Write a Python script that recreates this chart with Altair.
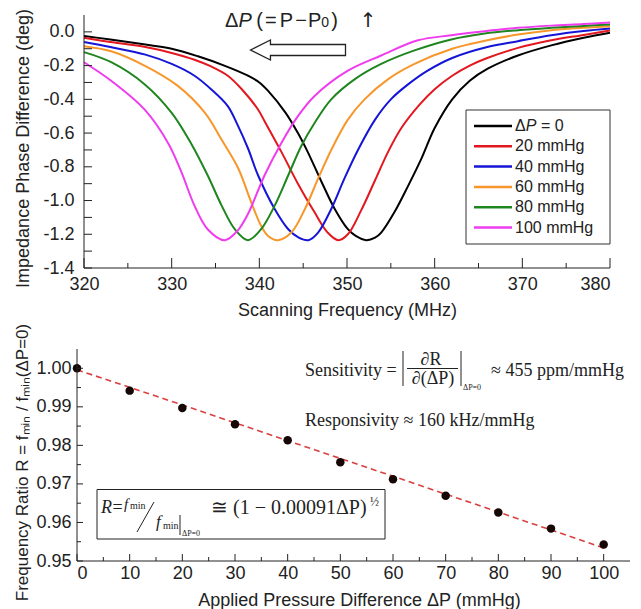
import altair as alt
import pandas as pd

# ---------------- data ----------------
SERIES = ["ΔP = 0", "20 mmHg", "40 mmHg", "60 mmHg", "80 mmHg", "100 mmHg"]
COLORS = ["#000000", "#e3171f", "#1515d8", "#f7972b", "#1f861f", "#ef3cef"]

F0 = [320, 323, 327, 330, 333, 336, 338.7, 340, 341, 343, 344.4, 345.5, 347.1, 348.6, 350.1, 351,
      352.2, 353.2, 353.9, 355.4, 357, 358.5, 360, 362, 364, 366, 369.5, 373.3, 377, 380]
V0 = [-0.025, -0.045, -0.075, -0.10, -0.145, -0.20, -0.26, -0.30, -0.35, -0.48, -0.60, -0.71, -0.89,
      -1.05, -1.17, -1.21, -1.235, -1.22, -1.19, -1.07, -0.91, -0.75, -0.57, -0.40, -0.29, -0.22,
      -0.14, -0.08, -0.035, -0.005]

F20 = [320, 323, 327, 330, 332.6, 334.5, 336.4, 338, 339.85, 340.6, 342.5, 344.4, 346.3, 347.8, 349,
       350.1, 351.6, 353.2, 354.7, 356.2, 358.3, 360, 362, 364, 366, 369.5, 373.3, 377, 380]
V20 = [-0.035, -0.06, -0.09, -0.125, -0.165, -0.205, -0.26, -0.34, -0.46, -0.53, -0.71, -0.90, -1.07,
       -1.19, -1.235, -1.20, -1.06, -0.88, -0.71, -0.57, -0.43, -0.34, -0.26, -0.20, -0.155, -0.095,
       -0.05, -0.018, 0.008]

F40 = [320, 323, 327, 330, 332.6, 334.5, 336.4, 337.5, 338.7, 339.85, 341.75, 343.3, 344.5, 345.6,
       346.7, 348.2, 349.7, 351.25, 353.2, 355, 357, 359.2, 362, 366, 369.5, 373.3, 377, 380]
V40 = [-0.06, -0.09, -0.135, -0.19, -0.26, -0.34, -0.44, -0.55, -0.69, -0.85, -1.05, -1.17, -1.22,
       -1.235, -1.19, -1.05, -0.87, -0.70, -0.52, -0.40, -0.31, -0.23, -0.155, -0.09, -0.055, -0.02,
       0.005, 0.02]

F60 = [320, 323.1, 326.9, 330.7, 333.8, 335.7, 337.6, 339, 340.2, 341, 342.1, 343.65, 345.2, 346.7,
       348.2, 350.1, 352, 354.7, 357.7, 362, 366, 369.5, 373.3, 377, 380]
V60 = [-0.085, -0.115, -0.20, -0.32, -0.48, -0.64, -0.81, -1.00, -1.15, -1.21, -1.235, -1.19, -1.05,
       -0.87, -0.70, -0.52, -0.40, -0.28, -0.19, -0.10, -0.05, -0.016, 0.01, 0.024, 0.034]

F80 = [320, 323.1, 326.9, 330, 332.2, 334.1, 335.7, 337.2, 338.7, 340.2, 341.75, 343.3, 344.8, 346.3,
       348.2, 350.9, 353.9, 357.7, 361.9, 365.7, 369.5, 373.3, 377, 380]
V80 = [-0.12, -0.18, -0.31, -0.48, -0.66, -0.85, -1.03, -1.17, -1.235, -1.17, -1.03, -0.85, -0.675,
       -0.54, -0.40, -0.28, -0.19, -0.11, -0.045, -0.01, 0.01, 0.024, 0.035, 0.044]

F100 = [320, 323.1, 326.9, 329.6, 331.1, 332.6, 334.1, 336.05, 337.5, 338.7, 340.6, 342.5, 344.4,
        346.3, 350.1, 353.9, 358.1, 361.9, 365.7, 369.5, 373.3, 377, 380]
V100 = [-0.18, -0.29, -0.46, -0.66, -0.83, -1.03, -1.17, -1.235, -1.18, -1.08, -0.85, -0.66, -0.50,
        -0.38, -0.23, -0.14, -0.05, -0.02, 0.004, 0.024, 0.037, 0.046, 0.055]

FREQS = [F0, F20, F40, F60, F80, F100]
PHASES = [V0, V20, V40, V60, V80, V100]

DP = [0, 10, 20, 30, 40, 50, 60, 70, 80, 90, 100]
RATIO = [1.000, 0.9942, 0.9897, 0.9855, 0.9813, 0.9756, 0.9712, 0.9669, 0.9626, 0.9584, 0.9543]
FIT_DP = [0, 20, 40, 60, 80, 100]
FIT_R = [0.9996, 0.9905, 0.9812, 0.9720, 0.9627, 0.9534]

TOP_X_LABELS = [320, 330, 340, 350, 360, 370, 380]
TOP_X_MINOR = [325, 335, 345, 355, 365, 375]
TOP_Y_LABELS = [-1.4, -1.2, -1.0, -0.8, -0.6, -0.4, -0.2, 0.0]
TOP_Y_TICKS = [-1.4, -1.3, -1.2, -1.1, -1.0, -0.9, -0.8, -0.7, -0.6, -0.5, -0.4, -0.3, -0.2, -0.1, 0.0]
BOT_X_LABELS = [0, 10, 20, 30, 40, 50, 60, 70, 80, 90, 100]
BOT_X_MINOR = [5, 15, 25, 35, 45, 55, 65, 75, 85, 95]
BOT_Y_LABELS = [0.95, 0.96, 0.97, 0.98, 0.99, 1.00]
BOT_Y_MINOR = [0.955, 0.965, 0.975, 0.985, 0.995]

# ---------------- styling ----------------
SANS = "Liberation Sans"
SERIF = "Liberation Serif"
INK = "#222222"
W1, H1 = 533, 253
W2, H2 = 553, 212
SP1 = 7  # where x=320 sits inside the top plot (pixels)

X1 = alt.Scale(domain=[319.2, 380], nice=False, zero=False)
Y1 = alt.Scale(domain=[-1.4, 0.1], nice=False, zero=False)
X2 = alt.Scale(domain=[0, 105], nice=False, zero=False)
Y2 = alt.Scale(domain=[0.95, 1.005], nice=False, zero=False)

DUMMY = pd.DataFrame({"a": [0]})


def ax(**kw):
    base = dict(ticks=False, domain=False, grid=False, labelFont=SANS, labelFontSize=18,
                labelColor=INK, titleFont=SANS, titleFontSize=18, titleColor=INK,
                titleFontWeight="normal")
    base.update(kw)
    return alt.Axis(**base)


AX_X1 = ax(values=TOP_X_LABELS, format="d", labelPadding=7,
           title="Scanning Frequency (MHz)", titlePadding=8, titleX=270)
AX_Y1 = ax(values=TOP_Y_LABELS, offset=-SP1, labelPadding=10,
           labelExpr="replace(format(datum.value, '.1f'), '\u2212', '-')",
           title="Impedance Phase Difference (deg)", titlePadding=10, titleY=133)
AX_X2 = ax(values=BOT_X_LABELS, format="d", labelPadding=3,
           title="Applied Pressure Difference ΔP (mmHg)", titlePadding=9, titleX=282)
AX_Y2 = ax(values=BOT_Y_LABELS, format=".2f", labelPadding=6,
           title="Frequency Ratio R = f\u2098\u1d62\u2099 / f\u2098\u1d62\u2099(ΔP=0)",
           titleFontSize=17, titlePadding=4, titleY=113)


def txt(s, x, y, size, font=SANS, style="normal", align="left", baseline="alphabetic"):
    return alt.Chart(DUMMY).mark_text(
        text=s, font=font, fontSize=size, fontStyle=style, align=align,
        baseline=baseline, color=INK
    ).encode(x=alt.value(x), y=alt.value(y))


def seg(x, y, x2, y2, color=INK, width=1.0):
    return alt.Chart(DUMMY).mark_rule(color=color, strokeWidth=width).encode(
        x=alt.value(x), y=alt.value(y), x2=alt.value(x2), y2=alt.value(y2))


def tick_rules(values, scale, axis, channel, a, b):
    df = pd.DataFrame({"t": values})
    if channel == "x":
        enc = dict(x=alt.X("t:Q", scale=scale, axis=axis), y=alt.value(a), y2=alt.value(b))
    else:
        enc = dict(y=alt.Y("t:Q", scale=scale, axis=axis), x=alt.value(a), x2=alt.value(b))
    return alt.Chart(df).mark_rule(color=INK, strokeWidth=1).encode(**enc)


# ---------------- top panel ----------------
rows = []
for name, fs, vs in zip(SERIES, FREQS, PHASES):
    for f, v in zip(fs, vs):
        rows.append({"series": name, "freq": f, "phase": v})
curves = pd.DataFrame(rows)

lines = alt.Chart(curves).mark_line(interpolate="catmull-rom", strokeWidth=2).encode(
    x=alt.X("freq:Q", scale=X1, axis=AX_X1),
    y=alt.Y("phase:Q", scale=Y1, axis=AX_Y1),
    color=alt.Color("series:N", scale=alt.Scale(domain=SERIES, range=COLORS), legend=None),
)

ARROW = "M -1 0 L -0.58 -0.21 L -0.58 -0.116 L 1 -0.116 L 1 0.116 L -0.58 0.116 L -0.58 0.21 Z"
arrow = alt.Chart(DUMMY).mark_point(
    shape=ARROW, size=9025, filled=True, fill="white", stroke=INK, strokeWidth=1.3, opacity=1
).encode(x=alt.value(221), y=alt.value(35))

top_layers = [
    lines,
    seg(SP1, 0, SP1, H1),
    seg(SP1, H1, W1, H1),
    tick_rules(TOP_Y_TICKS, Y1, AX_Y1, "y", SP1, SP1 + 8),
    tick_rules(TOP_X_LABELS, X1, AX_X1, "x", H1, H1 - 10),
    tick_rules(TOP_X_MINOR, X1, AX_X1, "x", H1, H1 - 5),
    arrow,
    txt("Δ", 148, 12, 20),
    txt("P", 161.5, 12, 20, style="italic"),
    txt("(", 179.3, 12, 20),
    txt("=", 188, 12, 20),
    txt("P", 202.7, 12, 20),
    txt("−", 218.3, 12, 20),
    txt("P", 231, 12, 20),
    txt("0", 244.3, 12, 14),
    txt(")", 254.3, 12, 20),
    txt("↑", 282.7, 12, 20, font="DejaVu Sans"),
]

# manual legend
top_layers.append(alt.Chart(DUMMY).mark_rect(fill="white", stroke="#333333", strokeWidth=1).encode(
    x=alt.value(389), x2=alt.value(533), y=alt.value(95), y2=alt.value(229)))
for i, (s, c) in enumerate(zip(SERIES, COLORS)):
    yy = 111 + 20.3 * i
    top_layers.append(seg(397, yy, 435, yy, color=c, width=2.5))
    if i == 0:
        top_layers.append(txt("Δ", 438, yy, 16, baseline="middle"))
        top_layers.append(txt("P", 448.7, yy, 16, style="italic", baseline="middle"))
        top_layers.append(txt("= 0", 464, yy, 16, baseline="middle"))
    else:
        top_layers.append(txt(s, 438, yy, 16, baseline="middle"))

top = alt.layer(*top_layers).properties(width=W1, height=H1)

# ---------------- bottom panel ----------------
fit = alt.Chart(pd.DataFrame({"dp": FIT_DP, "r": FIT_R})).mark_line(
    color="#d8413f", strokeDash=[6, 4], strokeWidth=1.6
).encode(x=alt.X("dp:Q", scale=X2, axis=AX_X2), y=alt.Y("r:Q", scale=Y2, axis=AX_Y2))

pts = alt.Chart(pd.DataFrame({"dp": DP, "r": RATIO})).mark_circle(
    size=72, color="#160707", opacity=1
).encode(x=alt.X("dp:Q", scale=X2, axis=AX_X2), y=alt.Y("r:Q", scale=Y2, axis=AX_Y2))

bot_layers = [
    fit,
    pts,
    seg(0, 0, 0, H2),
    seg(0, H2, W2, H2),
    tick_rules(BOT_Y_LABELS, Y2, AX_Y2, "y", 0, 6),
    tick_rules(BOT_Y_MINOR, Y2, AX_Y2, "y", 0, 4),
    tick_rules(BOT_X_LABELS, X2, AX_X2, "x", H2, H2 - 7),
    tick_rules(BOT_X_MINOR, X2, AX_X2, "x", H2, H2 - 4),
    # sensitivity
    txt("Sensitivity =", 228, 27, 18, font=SERIF),
    seg(326, 2, 326, 37),
    txt("∂R", 354, 16, 18, font=SERIF, align="center"),
    seg(330, 19.5, 381, 19.5),
    txt("∂(ΔP)", 356, 35, 18, font=SERIF, align="center"),
    seg(384, 2, 384, 37),
    txt("ΔP=0", 386, 41, 8, font=SERIF),
    txt("≈ 455 ppm/mmHg", 414, 27, 18, font=SERIF),
    # responsivity
    txt("Responsivity ≈ 160 kHz/mmHg", 228, 77, 18, font=SERIF),
    # formula box
    alt.Chart(DUMMY).mark_rect(fill="white", stroke=INK, strokeWidth=1).encode(
        x=alt.value(20), x2=alt.value(308), y=alt.value(140.5), y2=alt.value(190)),
    txt("R", 24, 164, 18, font=SERIF, style="italic"),
    txt("=", 35.5, 164, 18, font=SERIF),
    txt("f", 47, 160, 15, font=SERIF, style="italic"),
    txt("min", 53, 160, 10, font=SERIF),
    seg(60, 183, 77, 153),
    txt("f", 79, 178, 17, font=SERIF, style="italic"),
    txt("min", 86, 180, 10, font=SERIF),
    seg(103, 166, 103, 186),
    txt("ΔP=0", 105, 187, 8, font=SERIF),
    txt("≅ (1 − 0.00091ΔP)", 134, 165, 20, font=SERIF),
    txt("½", 293, 157, 12, font=SERIF),
]

bottom = alt.layer(*bot_layers).properties(width=W2, height=H2)

chart = alt.vconcat(top, bottom, spacing=4).properties(
    padding={"left": 5, "top": 0, "right": 0, "bottom": 0}
).configure_view(stroke=None).configure_axis(grid=False)

chart.save("out.html", embed_options={"renderer": "svg", "actions": False})
